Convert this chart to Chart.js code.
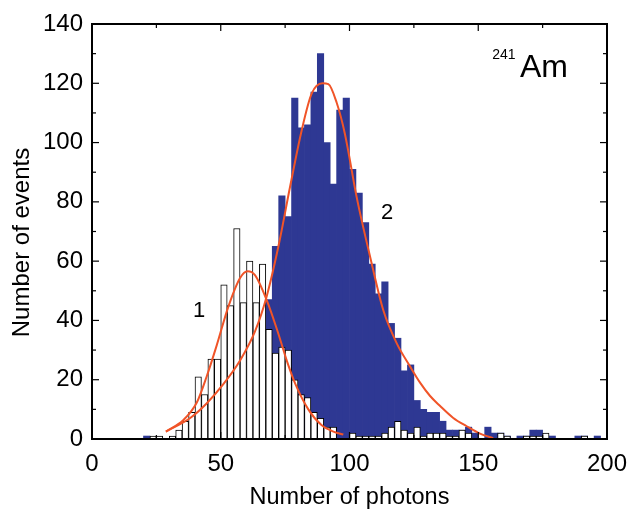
<!DOCTYPE html>
<html>
<head>
<meta charset="utf-8">
<script src="https://cdn.jsdelivr.net/npm/chart.js@4.4.1/dist/chart.umd.min.js"></script>
<style>
  body { margin: 0; background: #fff; }
</style>
</head>
<body>
<canvas id="histChart" width="629" height="509"></canvas>
<script>
// histogram bins (left edge, width 2.5 photons)
const binWidth = 2.5;
const binStarts = [
  20, 22.5, 25, 27.5, 30, 32.5, 35, 37.5,
  40, 42.5, 45, 47.5, 50, 52.5, 55, 57.5,
  60, 62.5, 65, 67.5, 70, 72.5, 75, 77.5,
  80, 82.5, 85, 87.5, 90, 92.5, 95, 97.5,
  100, 102.5, 105, 107.5, 110, 112.5, 115, 117.5,
  120, 122.5, 125, 127.5, 130, 132.5, 135, 137.5,
  140, 142.5, 145, 147.5, 150, 152.5, 155, 157.5,
  160, 162.5, 165, 167.5, 170, 172.5, 175, 177.5,
  180, 182.5, 185, 187.5, 190, 192.5, 195, 197.5
];

// spectrum 1 (open bars)
const counts1 = [
  0, 1, 1, 0, 1, 3, 6, 9,
  21, 15, 27, 27, 52, 45, 71, 46,
  60, 46, 59, 37, 29, 31, 30, 20,
  15, 14, 9, 7, 4, 4, 0, 0,
  2, 1, 1, 1, 1, 2, 4, 6,
  3, 2, 4, 1, 2, 2, 2, 1,
  1, 3, 2, 0, 0, 0, 0, 2,
  1, 0, 0, 1, 1, 1, 2, 0,
  0, 0, 0, 0, 1, 0, 0, 0
];

// spectrum 2 (filled bars)
const counts2 = [
  1, 0, 0, 0, 0, 0, 0, 0,
  0, 0, 0, 0, 0, 0, 0, 0,
  0, 0, 0, 47, 65, 82, 75, 115,
  105, 106, 117, 130, 100, 86, 111, 115,
  91, 83, 73, 59, 49, 53, 39, 34,
  23, 25, 13, 10, 9, 9, 6, 3,
  3, 3, 4, 2, 0, 4, 2, 2,
  1, 0, 1, 1, 3, 3, 1, 1,
  0, 0, 0, 1, 1, 0, 1, 0
];

// fitted curves
const fit1X = [28.7, 35.5, 40.7, 44.5, 48.4, 52.9, 57.5, 60.4, 63.3, 68, 72, 76, 79, 84, 89, 94, 97.6];
const fit1Y = [2.5, 6.4, 12.3, 21, 31.5, 44.5, 54.3, 56.6, 55.3, 46.5, 36.5, 25.5, 18.5, 10, 4.8, 2.4, 1.5];
const fit2X = [28.7, 38, 44.5, 51, 57.5, 63.3, 67.8, 72.4, 76.9, 81.4, 85.3, 89.5, 91.8, 95, 98.2, 102.8, 108, 113.1, 118.5, 123.5, 127.4, 131.3, 135.1, 140.3, 145.5, 150.7, 155.8];
const fit2Y = [2.5, 7, 12, 18.5, 26.5, 36.3, 48, 65, 85, 104, 116.5, 120, 119.7, 113.5, 103, 81.5, 61.5, 43.5, 32, 24.5, 19, 14.5, 11.2, 7.1, 4.3, 1.8, 0.3];

const xTicks = [0, 50, 100, 150, 200];
const yTicks = [0, 20, 40, 60, 80, 100, 120, 140];

const FONT = "'Liberation Sans', Arial, Helvetica, sans-serif";
const BLUE = '#2e3893';
const RED = '#f05428';

const toBars = counts => counts.map((c, i) => ({ x: binStarts[i] + binWidth / 2, y: c }));
const toLine = (xs, ys) => xs.map((v, i) => ({ x: v, y: ys[i] }));

// frame, inward ticks, y title and in-plot labels (filled rects, not strokes)
const framePlugin = {
  id: 'frame',
  afterDraw(chart) {
    const { ctx, chartArea: a, scales: { x, y } } = chart;
    const w = a.right - a.left, h = a.bottom - a.top;
    ctx.save();
    ctx.fillStyle = '#000';
    // ticks every 25 on x, every 10 on y
    for (let v = 0; v <= 200; v += 25) {
      const px = x.getPixelForValue(v);
      const len = v % 50 === 0 ? 7 : 4;
      ctx.fillRect(px - 0.6, a.bottom - len, 1.2, len);
      ctx.fillRect(px - 0.6, a.top, 1.2, len);
    }
    for (let v = 0; v <= 140; v += 10) {
      const py = y.getPixelForValue(v);
      const len = v % 20 === 0 ? 7 : 4;
      ctx.fillRect(a.left, py - 0.6, len, 1.2);
      ctx.fillRect(a.right - len, py - 0.6, len, 1.2);
    }
    ctx.fillRect(a.left - 1, a.top - 1, 2, h + 2);
    ctx.fillRect(a.right - 1, a.top - 1, 2, h + 2);
    ctx.fillRect(a.left - 1, a.top - 1, w + 2, 2);
    ctx.fillRect(a.left - 1, a.bottom - 1, w + 2, 2);

    ctx.textBaseline = 'middle';
    ctx.textAlign = 'center';
    ctx.font = '22px ' + FONT;
    ctx.fillText('1', x.getPixelForValue(41.6), y.getPixelForValue(43.2));
    ctx.fillText('2', x.getPixelForValue(114.6), y.getPixelForValue(76.2));

    // y axis title, sits a little below the middle of the axis
    ctx.save();
    ctx.translate(22, (a.top + a.bottom) / 2 + 11);
    ctx.rotate(-Math.PI / 2);
    ctx.font = '24px ' + FONT;
    ctx.fillText('Number of events', 0, 0);
    ctx.restore();

    ctx.textBaseline = 'alphabetic';
    ctx.textAlign = 'left';
    ctx.font = '14px ' + FONT;
    ctx.fillText('241', x.getPixelForValue(155.4), y.getPixelForValue(128.2));
    ctx.font = '32px ' + FONT;
    ctx.fillText('Am', x.getPixelForValue(166.2), y.getPixelForValue(122));
    ctx.restore();
  }
};

const ctx = document.getElementById('histChart').getContext('2d');
const histChart = new Chart(ctx, {
  type: 'bar',
  data: {
    datasets: [
      {
        type: 'line',
        data: toLine(fit1X, fit1Y),
        borderColor: RED,
        borderWidth: 2,
        pointRadius: 0,
        cubicInterpolationMode: 'monotone',
        fill: false,
        order: 0
      },
      {
        type: 'line',
        data: toLine(fit2X, fit2Y),
        borderColor: RED,
        borderWidth: 2,
        pointRadius: 0,
        cubicInterpolationMode: 'monotone',
        fill: false,
        order: 0
      },
      {
        data: toBars(counts1),
        backgroundColor: '#fff',
        borderColor: '#000',
        borderWidth: 1,
        grouped: false,
        barPercentage: 1,
        categoryPercentage: 1,
        order: 1
      },
      {
        data: toBars(counts2),
        backgroundColor: BLUE,
        borderWidth: 0,
        grouped: false,
        barPercentage: 1,
        categoryPercentage: 1,
        order: 2
      }
    ]
  },
  options: {
    responsive: false,
    animation: false,
    layout: { padding: { left: 0, right: 22, top: 24, bottom: 0 } },
    plugins: {
      legend: { display: false },
      tooltip: { enabled: false }
    },
    scales: {
      x: {
        type: 'linear',
        min: 0,
        max: 200,
        offset: false,
        afterFit: s => { s.height = 70; s.paddingLeft = 0; s.paddingRight = 0; },
        afterBuildTicks: s => { s.ticks = xTicks.map(v => ({ value: v })); },
        grid: { display: false, drawTicks: false },
        border: { display: false },
        ticks: { color: '#000', padding: 11, maxRotation: 0, font: { family: FONT, size: 24 } },
        title: {
          display: true,
          text: 'Number of photons',
          color: '#000',
          padding: { top: 0, bottom: 0 },
          font: { family: FONT, size: 23.5, lineHeight: 0.95 }
        }
      },
      y: {
        min: 0,
        max: 140,
        afterFit: s => { s.width = 92; s.paddingTop = 0; s.paddingBottom = 0; },
        afterBuildTicks: s => { s.ticks = yTicks.map(v => ({ value: v })); },
        grid: { display: false, drawTicks: false },
        border: { display: false },
        ticks: { color: '#000', padding: 9, font: { family: FONT, size: 24 } }
      }
    }
  },
  plugins: [framePlugin]
});
</script>
</body>
</html>
